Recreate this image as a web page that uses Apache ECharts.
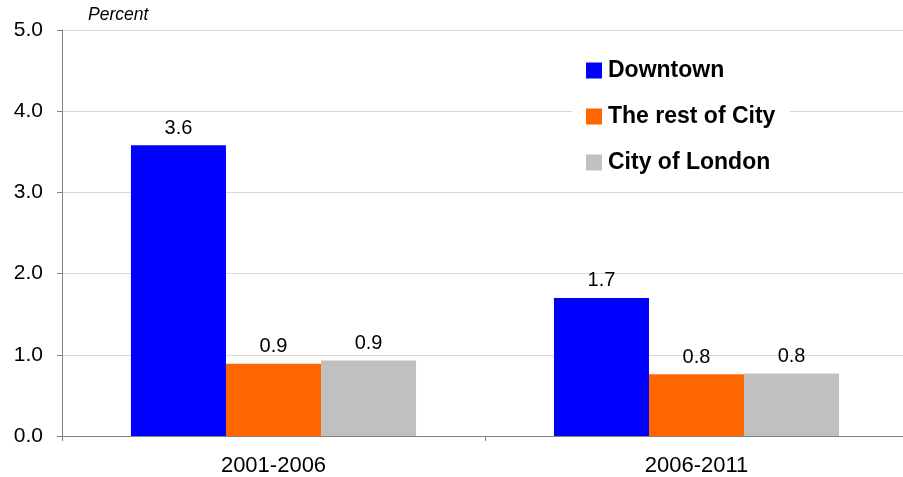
<!DOCTYPE html>
<html>
<head>
<meta charset="utf-8">
<script src="https://cdn.jsdelivr.net/npm/echarts@6/dist/echarts.min.js"></script>
<style>
  html, body { margin: 0; padding: 0; background: #fff; }
  #canvas { width: 903px; height: 477px; }
</style>
</head>
<body>
<div id="canvas"></div>
<script>
var periods = ['2001-2006', '2006-2011'];
var downtown = [3.58, 1.70];
var restOfCity = [0.89, 0.76];
var cityOfLondon = [0.93, 0.77];
var yTicks = [0, 1, 2, 3, 4, 5];

var myChart = echarts.init(document.getElementById('canvas'));

var barLabel = {
    show: true,
    position: 'top',
    distance: 7,
    color: '#000',
    fontSize: 20,
    fontFamily: 'Liberation Sans, Arial',
    formatter: function (p) { return p.value.toFixed(1); }
};

var option = {
    animation: false,
    color: ['#0000FF', '#FF6600', '#C0C0C0'],
    grid: {
        left: 62,
        width: 846,
        top: 30,
        bottom: 41,
        containLabel: false,
        outerBoundsMode: 'none'
    },
    legend: {
        orient: 'vertical',
        left: 572,
        top: 53,
        itemWidth: 16,
        itemHeight: 16,
        itemGap: 23,
        padding: [6, 14, 6, 14],
        backgroundColor: '#fff',
        icon: 'rect',
        textStyle: {
            fontSize: 23,
            fontWeight: 'bold',
            color: '#000',
            padding: [0, 0, 0, 1],
            fontFamily: 'Liberation Sans, Arial'
        }
    },
    xAxis: {
        type: 'category',
        data: periods,
        axisLine: { lineStyle: { color: '#808080', width: 1 } },
        axisTick: { show: true, length: 5, lineStyle: { color: '#808080' } },
        axisLabel: {
            margin: 19,
            fontSize: 22,
            color: '#000',
            fontFamily: 'Liberation Sans, Arial'
        }
    },
    yAxis: {
        type: 'value',
        min: yTicks[0],
        max: yTicks[yTicks.length - 1],
        interval: 1,
        name: 'Percent',
        nameLocation: 'end',
        nameGap: 6,
        nameTextStyle: {
            fontStyle: 'italic',
            fontSize: 17.5,
            color: '#000',
            align: 'left',
            padding: [0, 0, 0, 26],
            fontFamily: 'Liberation Sans, Arial'
        },
        axisLine: { show: true, lineStyle: { color: '#808080', width: 1 } },
        axisTick: { show: true, length: 5, lineStyle: { color: '#808080' } },
        splitLine: { show: true, lineStyle: { color: '#D9D9D9', width: 1 } },
        axisLabel: {
            margin: 19,
            fontSize: 21,
            color: '#000',
            fontFamily: 'Liberation Sans, Arial',
            formatter: function (v) { return v.toFixed(1); }
        }
    },
    series: [
        { name: 'Downtown', type: 'bar', data: downtown, barGap: '0%', barCategoryGap: '32.6%', label: barLabel },
        { name: 'The rest of City', type: 'bar', data: restOfCity, label: barLabel },
        { name: 'City of London', type: 'bar', data: cityOfLondon, label: barLabel }
    ]
};
myChart.setOption(option);
</script>
</body>
</html>
